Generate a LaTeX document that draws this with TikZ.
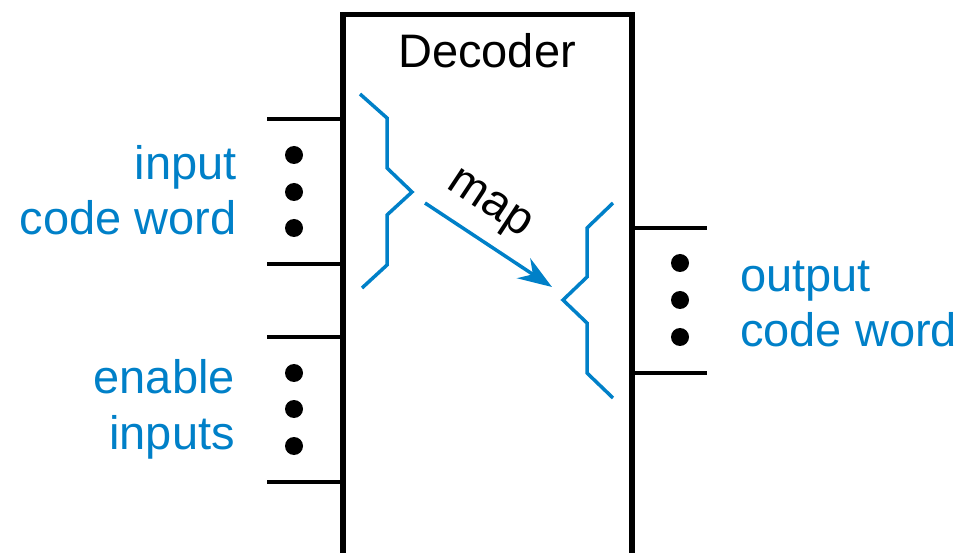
\documentclass[tikz,border=0pt]{standalone}
\usepackage{fontspec}
\setmainfont{Liberation Sans}
\usetikzlibrary{positioning,arrows.meta,calc}
\definecolor{dBlue}{RGB}{0,128,200}
\tikzset{
  blk/.style={rectangle, draw=black, line width=5.5pt, minimum width=289pt,
              minimum height=560pt, inner sep=0pt, anchor=north},
  pin/.style={draw=black, line width=4pt},
  bullet/.style={circle, fill=black, minimum size=18pt, inner sep=0pt},
  lbl/.style={font=\fontsize{47}{55}\selectfont, text=dBlue, inner sep=0pt},
  title/.style={font=\fontsize{47}{55}\selectfont, inner sep=0pt},
  brace/.style={draw=dBlue, line width=3.5pt},
  flow/.style={-{Stealth[length=34pt,width=24pt]}, draw=dBlue, line width=3.5pt},
}

\begin{document}
\begin{tikzpicture}[x=1pt,y=-1pt]
  \useasboundingbox (0,0) rectangle (975,553);

  %====================== BLOCK ======================
  \node[blk] (dec) at (487.5,12) {};
  \node[title, anchor=base] (name) at (487,68) {Decoder};

  %====================== PINS ======================
  \foreach \y/\id in {119/a1, 264/a2, 337/b1, 482/b2} {
    \coordinate (\id) at (267,\y);
    \draw[pin] (\id) -- (\id -| dec.west);
  }
  \foreach \y/\id in {228/c1, 373/c2} {
    \coordinate (\id) at (707,\y);
    \draw[pin] (\id -| dec.east) -- (\id);
  }

  % dots between the pins
  \foreach \y in {155,192,228,373,409,446}
    \node[bullet] at (294,\y) {};
  \foreach \y in {263,300,337}
    \node[bullet] at (680,\y) {};

  %====================== LABELS ======================
  % base anchor of a two-line node sits on its last line
  \node[lbl, align=right, anchor=base east] (incw) at (237,235) {input\\code word};
  \node[lbl, align=right, anchor=base east] (en) at (235,449) {enable\\inputs};
  \node[lbl, align=left, anchor=base west] (outcw) at (740,347) {output\\code word};

  %====================== BRACES + MAP ======================
  \draw[brace] (360,94) -- (387,118) -- (387,168) -- (412,192)
               -- (387,215) -- (387,265) -- (362,288);
  \draw[brace] (613,203) -- (587,228) -- (587,277) -- (563,300)
               -- (587,323) -- (587,373) -- (613,398);

  \coordinate (mapA) at (425,203);
  \coordinate (mapB) at (552,287);
  \draw[flow] (mapA) -- (mapB);
  \node[title, rotate=-33.5] (maplbl) at (488,206) {map};
\end{tikzpicture}
\end{document}
